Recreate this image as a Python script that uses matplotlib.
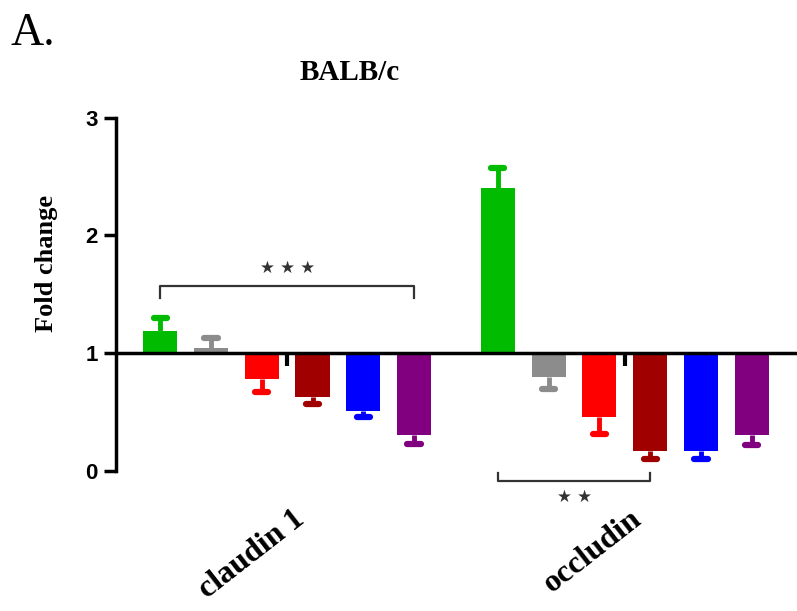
import numpy as np
import matplotlib.pyplot as plt

# Fold change per treatment group (baseline 1.0 = control)
groups = ['claudin 1', 'occludin']
bar_colors = ['#00BB00', '#8C8C8C', '#FF0000', '#A00000', '#0000FF', '#800080']
claudin_vals = [1.19, 1.04, 0.78, 0.63, 0.51, 0.30]
claudin_err = [0.11, 0.09, 0.11, 0.06, 0.05, 0.07]
occludin_vals = [2.40, 0.80, 0.46, 0.17, 0.17, 0.30]
occludin_err = [0.17, 0.11, 0.15, 0.07, 0.07, 0.08]

# significance brackets: (first bar, last bar, level, label)
claudin_sig = (0, 5, 1.57, '\u2605 \u2605 \u2605')
occludin_sig = (0, 3, -0.09, '\u2605 \u2605')

fig = plt.figure(figsize=(7.97, 6.11), dpi=100)
ax = fig.add_axes([0.1455, 0.172, 0.8545, 0.645])

group_offset = [0.0, 6.65]
width = 0.67
cap_half = 0.13
serif = ['Liberation Serif', 'DejaVu Serif']
sans = ['Liberation Sans', 'DejaVu Sans']

all_sets = [(claudin_vals, claudin_err), (occludin_vals, occludin_err)]
centers = []
for off, (vals, errs) in zip(group_offset, all_sets):
    x = off + np.arange(len(vals))
    vals = np.array(vals)
    errs = np.array(errs)
    ax.bar(x, vals - 1, bottom=1, width=width, color=bar_colors, zorder=2)
    # one-sided error bars pointing away from the baseline
    ends = np.where(vals >= 1, vals + errs, vals - errs)
    ax.vlines(x, vals, ends, colors=bar_colors, lw=3.5, zorder=2)
    ax.hlines(ends, x - cap_half, x + cap_half, colors=bar_colors, lw=4.5,
              capstyle='round', zorder=2)
    centers.append(x.mean())

# significance brackets
for off, (i0, i1, lvl, lab), down in [(group_offset[0], claudin_sig, True),
                                      (group_offset[1], occludin_sig, False)]:
    x0, x1 = off + i0, off + i1
    tip = -0.1 if down else 0.07
    ax.plot([x0, x0, x1, x1], [lvl + tip, lvl, lvl, lvl + tip],
            color='#333333', lw=1.6, clip_on=False, zorder=3)
    ty = lvl + 0.08 if down else lvl - 0.06
    ax.text((x0 + x1) / 2, ty, lab, ha='center', va='bottom' if down else 'top',
            fontsize=12, color='#333333', family='DejaVu Sans')

ax.set_xlim(-0.87, 12.54)
ax.set_ylim(-0.3, 3.05)

# axis line at fold change = 1
for s in ['top', 'right']:
    ax.spines[s].set_visible(False)
ax.spines['bottom'].set_position(('data', 1))
ax.spines['bottom'].set_linewidth(2.5)
ax.spines['left'].set_linewidth(2.5)
ax.spines['left'].set_bounds(0, 3)
ax.spines['bottom'].set_zorder(4)

ax.set_xticks(centers)
ax.set_xticklabels([])
ax.tick_params(axis='x', direction='out', length=9, width=3)
ax.set_yticks([0, 1, 2, 3])
ax.tick_params(axis='y', direction='out', length=9, width=2.5, pad=4)
for t in ax.get_yticklabels():
    t.set_fontfamily(sans)
    t.set_fontweight('bold')
    t.set_fontsize(16)

ax.set_ylabel('Fold change', fontsize=19, fontweight='bold', family=serif)
ax.yaxis.set_label_coords(-0.085, 0.615)

for c, name in zip(centers, groups):
    ax.text(c + 0.1, -0.29, name, rotation=38, rotation_mode='anchor',
            ha='right', va='top', fontsize=23, fontweight='bold', family=serif,
            clip_on=False)

fig.text(350 / 797, 1 - 72 / 611, 'BALB/c', ha='center', va='center',
         fontsize=21, fontweight='bold', family=serif)
fig.text(0.013, 1 - 45 / 611, 'A.', ha='left', va='baseline',
         fontsize=33, family=serif)

fig.savefig('out.png', dpi=100, facecolor='white')
